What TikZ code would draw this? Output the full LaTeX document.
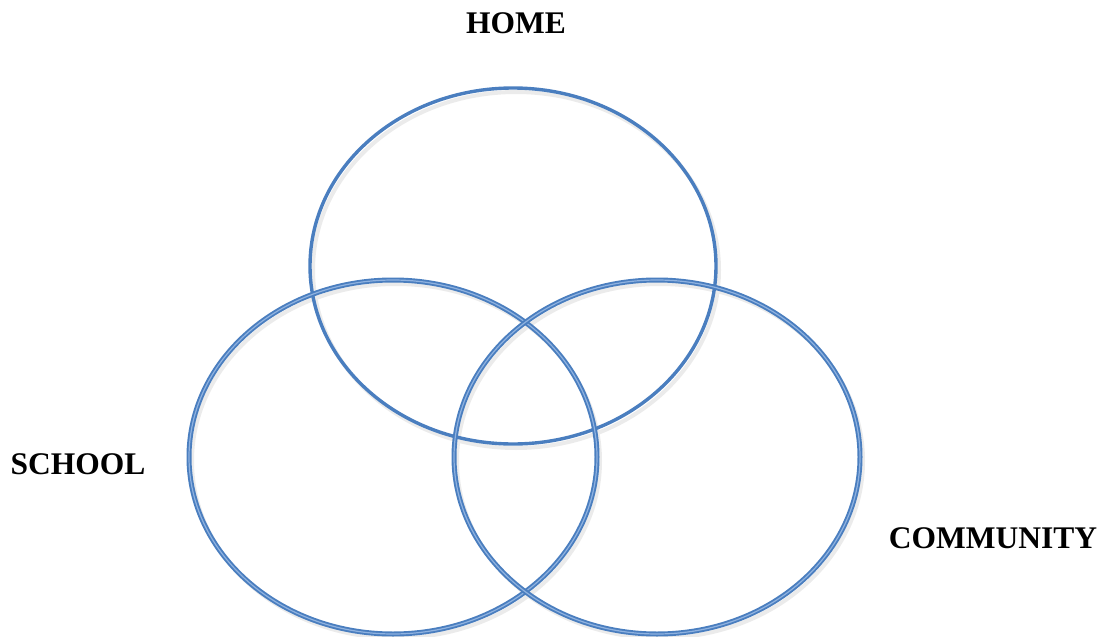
\documentclass[tikz,border=0pt]{standalone}
\usepackage{fontspec}
\setmainfont{Liberation Serif}
\begin{document}
\begin{tikzpicture}[x=1pt,y=-1pt,
  lbl/.style={font=\fontsize{31.5}{36}\selectfont\bfseries, inner sep=0pt, anchor=base},
  ring/.style={draw=ringblue, line width=3.4pt},
  dring/.style={draw=ringblue, line width=1.9pt, double=ringlight, double distance=1.2pt},
  shade/.style={draw=black!8, line width=4pt}]
\definecolor{ringblue}{HTML}{4A7EBF}
\definecolor{ringlight}{HTML}{8FB2E0}
\useasboundingbox (0,0) rectangle (1101,637);
% shadows
\draw[shade] (516,270) ellipse [x radius=203, y radius=178];
\draw[shade] (396,461) ellipse [x radius=204, y radius=177];
\draw[shade] (660,461) ellipse [x radius=203, y radius=177];
% rings
\draw[ring] (513,266) ellipse [x radius=203, y radius=178];
\draw[dring] (393,457) ellipse [x radius=204, y radius=177];
\draw[dring] (657,457) ellipse [x radius=203, y radius=177];
% labels
\node[lbl] (home) at (516,33) {HOME};
\node[lbl] (school) at (78,474) {SCHOOL};
\node[lbl] (community) at (993,548) {COMMUNITY};
\end{tikzpicture}
\end{document}
